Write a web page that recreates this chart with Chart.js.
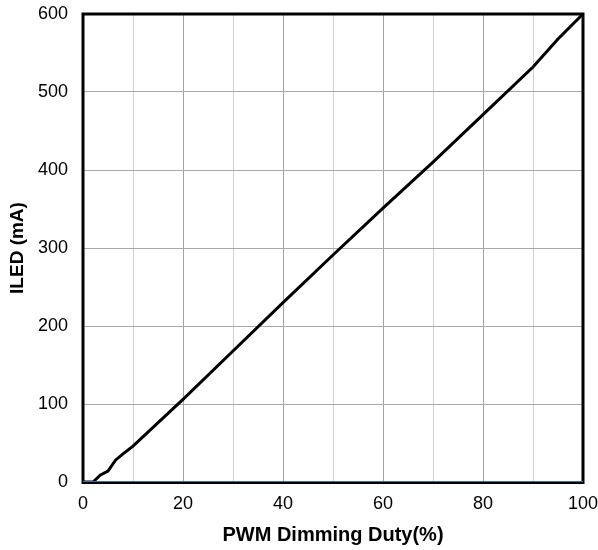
<!DOCTYPE html>
<html>
<head>
	<title></title>
	<script src="https://cdn.jsdelivr.net/npm/chart.js@4.4.0/dist/chart.umd.min.js"></script>
	<style>
		body { margin: 0; background: #fff; }
		#wrap { width: 598px; height: 550px; }
	</style>
</head>
<body>
<div id="wrap">
	<canvas id="grafico" width="598" height="550"></canvas>
</div>
<script>
	// datos
	var duty = [0, 2, 3.5, 5, 6.5, 8, 10, 20, 30, 40, 50, 60, 70, 80, 90, 95, 100];
	var iled = [0, 0, 9, 14, 28, 36, 46, 106, 168, 230, 291, 351, 410, 471, 532, 568, 600];
	var cero = [0, 0];
	var ceroX = [0, 100];
	var xTicks = [0, 20, 40, 60, 80, 100];
	var yTicks = [0, 100, 200, 300, 400, 500, 600];

	function pares(xs, ys) {
		return xs.map(function (x, i) { return { x: x, y: ys[i] }; });
	}

	// marco negro grueso alrededor del area
	var marco = {
		id: 'marco',
		beforeDatasetsDraw: function (chart) {
			var a = chart.chartArea;
			var ctx = chart.ctx;
			ctx.save();
			ctx.strokeStyle = '#000';
			ctx.lineWidth = 3;
			ctx.strokeRect(a.left, a.top, a.right - a.left, a.bottom - a.top + 0.5);
			ctx.restore();
		}
	};

	var ctx = document.getElementById('grafico').getContext('2d');
	window.chart = new Chart(ctx, {
		type: 'scatter',
		data: {
			datasets: [{
				data: pares(ceroX, cero),
				showLine: true,
				borderColor: '#3d6c9f',
				borderWidth: 2,
				pointRadius: 0
			}, {
				data: pares(duty, iled),
				showLine: true,
				borderColor: '#000',
				borderWidth: 3,
				pointRadius: 0,
				tension: 0
			}]
		},
		plugins: [marco],
		options: {
			responsive: false,
			animation: false,
			layout: { padding: { left: 0, right: 15, top: 14, bottom: 0 } },
			plugins: { legend: { display: false }, tooltip: { enabled: false } },
			scales: {
				x: {
					type: 'linear',
					min: 0, max: 100,
					afterFit: function (s) { s.height = 68; s.paddingLeft = 0; s.paddingRight = 0; },
					ticks: {
						stepSize: 10,
						autoSkip: false,
						maxRotation: 0,
						padding: 11,
						color: '#000',
						font: { family: 'Liberation Sans', size: 18 },
						callback: function (v) { return xTicks.indexOf(v) >= 0 ? v : ''; }
					},
					grid: {
						drawTicks: false,
						color: function (c) { return c.tick.value % 20 === 0 ? '#a3a3a3' : '#d0d0d0'; },
						lineWidth: 1
					},
					border: { display: false },
					title: {
						display: true,
						text: 'PWM Dimming Duty(%)',
						color: '#000',
						font: { family: 'Liberation Sans', size: 20, weight: 'bold' },
						padding: { top: 0, bottom: 3 }
					}
				},
				y: {
					min: 0, max: 600,
					afterFit: function (s) { s.width = 83; s.paddingTop = 0; s.paddingBottom = 0; },
					ticks: {
						stepSize: 100,
						padding: 15,
						color: '#000',
						font: { family: 'Liberation Sans', size: 18 },
						callback: function (v) { return yTicks.indexOf(v) >= 0 ? v : ''; }
					},
					grid: { drawTicks: false, color: '#a8a8a8', lineWidth: 1 },
					border: { display: false },
					title: {
						display: true,
						text: 'ILED (mA)',
						color: '#000',
						font: { family: 'Liberation Sans', size: 19, weight: 'bold' },
						padding: { top: 6, bottom: 0 }
					}
				}
			}
		}
	});
</script>
</body>
</html>
